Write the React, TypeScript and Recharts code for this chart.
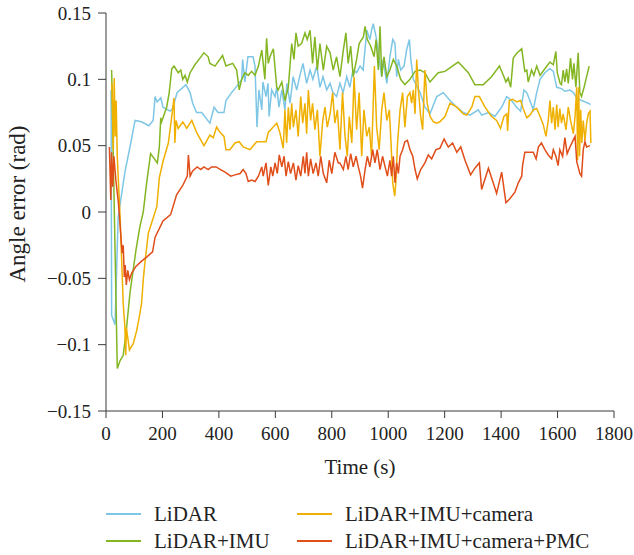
import { LineChart, Line, XAxis, YAxis } from 'recharts';

const timeTicks = [0, 200, 400, 600, 800, 1000, 1200, 1400, 1600, 1800];
const angleTicks = [-0.15, -0.1, -0.05, 0, 0.05, 0.1, 0.15];

const lidarTime = [18, 20, 32, 43, 67, 85, 103, 126, 152, 167, 174, 181, 194, 202, 227, 236, 252, 283, 298, 307, 321, 339, 368, 383, 397, 418, 425, 445, 468, 481, 484, 492, 503, 521, 528, 535, 542, 552, 556, 567, 574, 578, 587, 599, 605, 613, 623, 634, 641, 652, 663, 676, 687, 698, 711, 723, 733, 747, 758, 769, 782, 794, 804, 817, 829, 840, 853, 864, 875, 888, 900, 911, 924, 935, 941, 947, 957, 965, 977, 982, 995, 1006, 1016, 1024, 1030, 1036, 1044, 1056, 1065, 1075, 1080, 1089, 1113, 1130, 1148, 1172, 1195, 1219, 1243, 1266, 1290, 1319, 1331, 1355, 1378, 1402, 1420, 1437, 1455, 1469, 1481, 1491, 1502, 1514, 1526, 1538, 1555, 1573, 1585, 1597, 1614, 1626, 1644, 1656, 1668, 1685, 1697, 1709, 1717];
const lidarAngle = [0.092, -0.078, -0.085, -0.004, 0.03, 0.049, 0.069, 0.068, 0.065, 0.069, 0.087, 0.083, 0.086, 0.079, 0.076, 0.078, 0.09, 0.096, 0.09, 0.082, 0.075, 0.075, 0.067, 0.079, 0.075, 0.075, 0.084, 0.09, 0.096, 0.1, 0.115, 0.098, 0.117, 0.117, 0.11, 0.064, 0.092, 0.077, 0.098, 0.087, 0.097, 0.072, 0.092, 0.087, 0.094, 0.079, 0.092, 0.077, 0.097, 0.082, 0.102, 0.092, 0.103, 0.112, 0.097, 0.107, 0.1, 0.11, 0.094, 0.102, 0.092, 0.097, 0.09, 0.087, 0.097, 0.09, 0.102, 0.094, 0.107, 0.105, 0.11, 0.107, 0.137, 0.13, 0.137, 0.142, 0.132, 0.12, 0.102, 0.115, 0.097, 0.117, 0.13, 0.127, 0.102, 0.115, 0.107, 0.11, 0.122, 0.13, 0.115, 0.1, 0.09, 0.079, 0.074, 0.087, 0.09, 0.084, 0.079, 0.075, 0.073, 0.077, 0.073, 0.075, 0.072, 0.079, 0.087, 0.084, 0.079, 0.076, 0.092, 0.09, 0.084, 0.077, 0.09, 0.1, 0.105, 0.108, 0.106, 0.094, 0.093, 0.091, 0.092, 0.09, 0.086, 0.084, 0.083, 0.082, 0.081];

const imuTime = [20, 40, 50, 61, 71, 85, 106, 120, 132, 144, 158, 182, 189, 194, 197, 215, 224, 233, 241, 256, 265, 272, 280, 288, 298, 315, 333, 347, 362, 368, 386, 413, 425, 449, 463, 472, 481, 492, 504, 516, 528, 540, 552, 557, 563, 569, 575, 581, 593, 605, 610, 623, 634, 646, 658, 666, 673, 681, 693, 705, 713, 723, 732, 740, 749, 758, 770, 782, 794, 805, 817, 829, 841, 850, 858, 867, 876, 888, 897, 912, 918, 926, 938, 950, 957, 965, 971, 977, 985, 995, 1006, 1018, 1030, 1044, 1059, 1077, 1095, 1113, 1130, 1148, 1177, 1201, 1248, 1284, 1307, 1337, 1366, 1394, 1410, 1417, 1425, 1434, 1443, 1457, 1473, 1484, 1491, 1496, 1508, 1516, 1526, 1538, 1555, 1573, 1585, 1594, 1599, 1609, 1614, 1620, 1626, 1632, 1638, 1646, 1653, 1658, 1665, 1673, 1679, 1685, 1694, 1703, 1712];
const imuAngle = [0.107, -0.118, -0.112, -0.108, -0.091, -0.061, -0.029, -0.011, 0, 0.022, 0.044, 0.037, 0.049, 0.071, 0.068, 0.079, 0.09, 0.108, 0.11, 0.105, 0.107, 0.1, 0.103, 0.098, 0.105, 0.111, 0.116, 0.12, 0.117, 0.112, 0.11, 0.118, 0.11, 0.112, 0.107, 0.092, 0.1, 0.105, 0.103, 0.106, 0.103, 0.11, 0.122, 0.112, 0.1, 0.131, 0.112, 0.117, 0.123, 0.094, 0.092, 0.098, 0.084, 0.094, 0.127, 0.115, 0.135, 0.125, 0.127, 0.135, 0.13, 0.137, 0.112, 0.132, 0.107, 0.127, 0.107, 0.125, 0.12, 0.107, 0.117, 0.102, 0.122, 0.135, 0.112, 0.125, 0.102, 0.115, 0.127, 0.132, 0.14, 0.13, 0.125, 0.117, 0.13, 0.107, 0.14, 0.102, 0.117, 0.102, 0.107, 0.115, 0.11, 0.1, 0.096, 0.1, 0.106, 0.107, 0.105, 0.098, 0.105, 0.106, 0.113, 0.105, 0.096, 0.096, 0.102, 0.11, 0.102, 0.098, 0.101, 0.094, 0.116, 0.12, 0.123, 0.106, 0.107, 0.098, 0.107, 0.103, 0.11, 0.103, 0.108, 0.113, 0.111, 0.121, 0.105, 0.097, 0.096, 0.107, 0.098, 0.108, 0.097, 0.116, 0.1, 0.112, 0.094, 0.12, 0.09, 0.087, 0.094, 0.102, 0.11];

const cameraTime = [21, 26, 29, 33, 36, 40, 50, 61, 67, 70, 72, 83, 97, 109, 118, 126, 132, 138, 150, 168, 180, 189, 203, 221, 233, 241, 244, 248, 256, 272, 286, 304, 321, 347, 368, 380, 392, 404, 418, 425, 439, 457, 472, 486, 510, 534, 567, 575, 605, 616, 628, 634, 640, 646, 652, 658, 664, 673, 681, 690, 697, 705, 711, 717, 725, 732, 740, 749, 758, 768, 776, 784, 794, 803, 811, 820, 829, 838, 847, 855, 862, 871, 879, 888, 897, 906, 914, 924, 933, 941, 951, 959, 968, 977, 985, 995, 1004, 1010, 1016, 1023, 1027, 1033, 1042, 1051, 1059, 1068, 1077, 1083, 1089, 1095, 1101, 1107, 1115, 1122, 1130, 1138, 1148, 1160, 1172, 1183, 1201, 1219, 1243, 1266, 1278, 1296, 1307, 1323, 1343, 1366, 1384, 1398, 1410, 1420, 1423, 1429, 1441, 1455, 1469, 1478, 1491, 1502, 1514, 1526, 1538, 1549, 1559, 1567, 1573, 1579, 1585, 1591, 1597, 1602, 1608, 1614, 1620, 1630, 1638, 1646, 1656, 1662, 1668, 1671, 1675, 1678, 1682, 1686, 1691, 1697, 1703, 1709, 1715, 1718];
const cameraAngle = [0.097, 0.047, 0.101, 0.057, 0.084, 0.041, -0.004, -0.069, -0.087, -0.108, -0.087, -0.104, -0.099, -0.089, -0.079, -0.069, -0.051, -0.038, -0.016, -0.004, 0.004, 0.026, 0.039, 0.052, 0.072, 0.086, 0.052, 0.069, 0.063, 0.068, 0.063, 0.069, 0.06, 0.05, 0.058, 0.056, 0.064, 0.06, 0.057, 0.047, 0.047, 0.052, 0.053, 0.049, 0.047, 0.053, 0.053, 0.06, 0.067, 0.06, 0.048, 0.077, 0.052, 0.079, 0.062, 0.082, 0.064, 0.077, 0.057, 0.087, 0.067, 0.082, 0.059, 0.092, 0.069, 0.082, 0.062, 0.077, 0.042, 0.069, 0.079, 0.064, 0.074, 0.09, 0.067, 0.077, 0.047, 0.09, 0.057, 0.042, 0.072, 0.052, 0.102, 0.062, 0.09, 0.042, 0.077, 0.057, 0.064, 0.042, 0.11, 0.064, 0.047, 0.077, 0.09, 0.069, 0.077, 0.052, 0.022, 0.012, 0.022, 0.052, 0.077, 0.09, 0.064, 0.087, 0.09, 0.082, 0.092, 0.074, 0.115, 0.092, 0.072, 0.062, 0.107, 0.082, 0.072, 0.068, 0.067, 0.068, 0.072, 0.082, 0.079, 0.074, 0.073, 0.079, 0.087, 0.087, 0.079, 0.072, 0.069, 0.063, 0.072, 0.074, 0.061, 0.084, 0.085, 0.083, 0.084, 0.078, 0.071, 0.073, 0.077, 0.078, 0.072, 0.066, 0.057, 0.069, 0.084, 0.067, 0.079, 0.062, 0.081, 0.064, 0.078, 0.067, 0.074, 0.062, 0.079, 0.069, 0.059, 0.072, 0.094, 0.039, 0.094, 0.042, 0.077, 0.052, 0.069, 0.054, 0.067, 0.074, 0.076, 0.052];

const pmcTime = [12, 17, 20, 24, 28, 35, 44, 52, 57, 61, 65, 68, 72, 77, 83, 91, 106, 126, 144, 165, 174, 197, 201, 229, 250, 272, 288, 292, 298, 307, 323, 336, 347, 362, 374, 390, 406, 422, 442, 457, 475, 486, 496, 504, 516, 528, 540, 552, 557, 567, 575, 584, 591, 599, 607, 614, 623, 631, 638, 646, 654, 664, 673, 681, 690, 699, 705, 711, 717, 725, 734, 744, 752, 761, 770, 782, 791, 800, 811, 823, 829, 841, 850, 858, 867, 876, 886, 894, 902, 909, 918, 926, 935, 945, 953, 961, 971, 980, 989, 997, 1006, 1012, 1018, 1024, 1030, 1036, 1042, 1051, 1059, 1068, 1077, 1087, 1095, 1103, 1115, 1130, 1142, 1154, 1169, 1183, 1198, 1213, 1228, 1243, 1257, 1272, 1292, 1307, 1323, 1331, 1355, 1372, 1384, 1402, 1417, 1431, 1449, 1461, 1473, 1476, 1484, 1500, 1514, 1524, 1532, 1543, 1555, 1567, 1579, 1585, 1594, 1602, 1608, 1618, 1626, 1634, 1644, 1653, 1662, 1668, 1673, 1679, 1685, 1691, 1697, 1703, 1715];
const pmcAngle = [0.049, 0.009, 0.045, 0.019, 0.042, 0.024, 0.007, -0.016, -0.031, -0.025, -0.049, -0.04, -0.055, -0.044, -0.051, -0.046, -0.041, -0.037, -0.034, -0.03, -0.019, -0.009, -0.007, -0.002, 0.013, 0.02, 0.027, 0.043, 0.027, 0.031, 0.034, 0.032, 0.034, 0.032, 0.034, 0.034, 0.032, 0.03, 0.027, 0.028, 0.029, 0.032, 0.029, 0.023, 0.024, 0.023, 0.027, 0.034, 0.027, 0.037, 0.02, 0.034, 0.027, 0.037, 0.029, 0.043, 0.034, 0.042, 0.027, 0.038, 0.029, 0.037, 0.024, 0.035, 0.027, 0.042, 0.029, 0.045, 0.027, 0.04, 0.029, 0.037, 0.027, 0.042, 0.029, 0.022, 0.039, 0.029, 0.045, 0.037, 0.037, 0.032, 0.042, 0.032, 0.044, 0.034, 0.042, 0.034, 0.027, 0.018, 0.032, 0.042, 0.034, 0.047, 0.037, 0.047, 0.032, 0.042, 0.034, 0.027, 0.039, 0.027, 0.042, 0.022, 0.037, 0.029, 0.042, 0.047, 0.053, 0.054, 0.047, 0.042, 0.032, 0.025, 0.032, 0.037, 0.043, 0.04, 0.047, 0.048, 0.055, 0.049, 0.052, 0.045, 0.049, 0.039, 0.028, 0.033, 0.037, 0.017, 0.033, 0.022, 0.014, 0.03, 0.007, 0.01, 0.015, 0.022, 0.027, 0.035, 0.045, 0.045, 0.045, 0.04, 0.049, 0.052, 0.047, 0.043, 0.04, 0.047, 0.042, 0.035, 0.047, 0.042, 0.056, 0.044, 0.049, 0.053, 0.057, 0.038, 0.034, 0.029, 0.027, 0.047, 0.053, 0.049, 0.05];

const toRows = (t: number[], v: number[]) => t.map((x, i) => ({ t: x, v: v[i] }));

const series = [
    { name: 'LiDAR', color: '#7EC6E6', data: toRows(lidarTime, lidarAngle) },
    { name: 'LiDAR+IMU', color: '#84B623', data: toRows(imuTime, imuAngle) },
    { name: 'LiDAR+IMU+camera', color: '#F0B000', data: toRows(cameraTime, cameraAngle) },
    { name: 'LiDAR+IMU+camera+PMC', color: '#E04E1A', data: toRows(pmcTime, pmcAngle) },
];

const font = '"Liberation Serif", "Times New Roman", serif';
const axisColor = '#3a3a3a';

const formatAngle = (v: number) => (v < 0 ? '\u2212' + Math.abs(v) : String(v));

function YLabel(props: any) {
    const vb = props.viewBox || {};
    const cy = vb.y + vb.height / 2 - 8;
    const x = 25;
    return (
        <text
            x={x}
            y={cy}
            transform={`rotate(-90, ${x}, ${cy})`}
            textAnchor="middle"
            fontFamily={font}
            fontSize={23}
            fill="#222"
        >
            Angle error (rad)
        </text>
    );
}

function LegendItem({ name, color, left, top }: { name: string; color: string; left: number; top: number }) {
    return (
        <div style={{ position: 'absolute', left, top, display: 'flex', alignItems: 'center', height: 24 }}>
            <span style={{ display: 'inline-block', width: 35, height: 2, background: color }} />
            <span style={{ marginLeft: 13, fontFamily: font, fontSize: 21, color: '#222', whiteSpace: 'nowrap' }}>{name}</span>
        </div>
    );
}

export default function App() {
    return (
        <div style={{ position: 'relative', width: 634, height: 555, background: '#fff' }}>
            <style>{'body { margin: 0; }'}</style>
            <LineChart width={634} height={478} margin={{ top: 13, right: 20, bottom: 0, left: 46 }}>
                <XAxis
                    dataKey="t"
                    type="number"
                    domain={[0, 1800]}
                    ticks={timeTicks}
                    allowDuplicatedCategory={false}
                    height={67}
                    stroke={axisColor}
                    tickSize={7}
                    tickMargin={9}
                    tick={{ fill: '#222', fontFamily: font, fontSize: 19 }}
                    label={{ value: 'Time (s)', position: 'insideBottom', offset: 4, fill: '#222', fontFamily: font, fontSize: 21 }}
                />
                <XAxis xAxisId="top" orientation="top" type="number" domain={[0, 1800]} height={0} tick={false} tickLine={false} stroke={axisColor} />
                <YAxis
                    type="number"
                    domain={[-0.15, 0.15]}
                    ticks={angleTicks}
                    width={60}
                    stroke={axisColor}
                    tickSize={8}
                    tickMargin={7}
                    tickFormatter={formatAngle}
                    tick={{ fill: '#222', fontFamily: font, fontSize: 19 }}
                    label={<YLabel />}
                />
                <YAxis yAxisId="right" orientation="right" width={0} tick={false} tickLine={false} stroke={axisColor} />
                {series.map((s) => (
                    <Line
                        key={s.name}
                        data={s.data}
                        dataKey="v"
                        name={s.name}
                        type="linear"
                        stroke={s.color}
                        strokeWidth={1.5}
                        dot={false}
                        isAnimationActive={false}
                    />
                ))}
            </LineChart>
            <LegendItem name={series[0].name} color={series[0].color} left={106} top={502} />
            <LegendItem name={series[1].name} color={series[1].color} left={106} top={529} />
            <LegendItem name={series[2].name} color={series[2].color} left={297} top={502} />
            <LegendItem name={series[3].name} color={series[3].color} left={297} top={529} />
        </div>
    );
}
